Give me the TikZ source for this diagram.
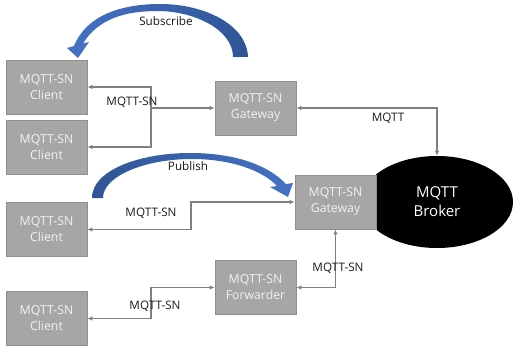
\documentclass[tikz,border=0pt]{standalone}
\usepackage{fontspec}
\setmainfont{Open Sans}
\usetikzlibrary{arrows.meta,shapes.geometric}
\definecolor{boxfill}{HTML}{A6A6A6}
\definecolor{boxline}{HTML}{8F8F8F}
\definecolor{conncol}{HTML}{808080}
\definecolor{blueA}{HTML}{2F5597}
\definecolor{blueB}{HTML}{4472C4}
\definecolor{boxtext}{HTML}{F2F2F2}
\begin{document}
\begin{tikzpicture}[x=1pt,y=-1pt,
  box/.style={draw=boxline,line width=0.8pt,fill=boxfill,minimum width=81pt,minimum height=54pt,inner sep=0pt,align=center,text=boxtext,font=\fontsize{12.3}{16}\selectfont},
  conn/.style={draw=conncol,line width=1.2pt,arrows={Latex[length=5pt,width=4.5pt]-Latex[length=5pt,width=4.5pt]}},
  connone/.style={draw=conncol,line width=1.2pt,arrows={-Latex[length=5pt,width=4.5pt]}},
  lbl/.style={font=\fontsize{11.7}{14}\selectfont,text=black!90,inner sep=0pt},
  bigarrow/.style={draw=none},
]
\useasboundingbox (0,0) rectangle (513,350);

% blue curved arrows
\path[bigarrow,left color=blueB,right color=blueA]
  (248,57) .. controls (247,25) and (205,4) .. (160,4)
  .. controls (120,4) and (86,16) .. (74,46)
  -- (67,48) -- (78,58) -- (89,42) -- (83,43.5)
  .. controls (98,19) and (125,11) .. (157,11)
  .. controls (195,11) and (233,30) .. (233,57) -- cycle;
\path[bigarrow,left color=blueA,right color=blueB]
  (92,198) .. controls (92,170) and (140,153) .. (190,153)
  .. controls (235,153) and (268,165) .. (286,184)
  -- (293,183) -- (288,197) -- (270,187) -- (277,186)
  .. controls (262,170) and (230,159) .. (192,159)
  .. controls (145,159) and (103,176) .. (103,198) -- cycle;
\node[lbl] (sub) at (166,21) {Subscribe};
\node[lbl] (pub) at (188,166) {Publish};

% broker
\node[ellipse,fill=black,minimum width=152pt,minimum height=92pt,inner sep=0pt,text=white,align=center,font=\fontsize{15}{19}\selectfont] (broker) at (437,202) {MQTT\\Broker};

% boxes
\node[box] (c1) at (46.5,87) {MQTT-SN\\Client};
\node[box] (c2) at (46.5,147) {MQTT-SN\\Client};
\node[box] (c3) at (46.5,229.5) {MQTT-SN\\Client};
\node[box] (c4) at (46.5,318.5) {MQTT-SN\\Client};
\node[box] (gw1) at (255.5,108) {MQTT-SN\\Gateway};
\node[box] (gw2) at (335.5,202) {MQTT-SN\\Gateway};
\node[box] (fw) at (255.5,287.5) {MQTT-SN\\Forwarder};

% connectors
\coordinate (j1) at (151,108);
\draw[conn] (c1.east) -| (j1) |- (c2.east);
\draw[connone] (j1) -- (gw1.west);
\draw[conn] (gw1.east) -| (broker.north);
\coordinate (j3) at (191,215);
\draw[conn] (c3.east) -| (j3) |- (gw2.west);
\coordinate (j4) at (151,300);
\draw[conn] (c4.east) -| (j4) |- (fw.west);
\draw[conn] (fw.east) -| (gw2.south);

% labels
\node[lbl] (l1) at (132,102) {MQTT-SN};
\node[lbl] (l2) at (388,118) {MQTT};
\node[lbl] (l3) at (151,213) {MQTT-SN};
\node[lbl] (l4) at (155,306) {MQTT-SN};
\node[lbl] (l5) at (338,268) {MQTT-SN};
\end{tikzpicture}
\end{document}
